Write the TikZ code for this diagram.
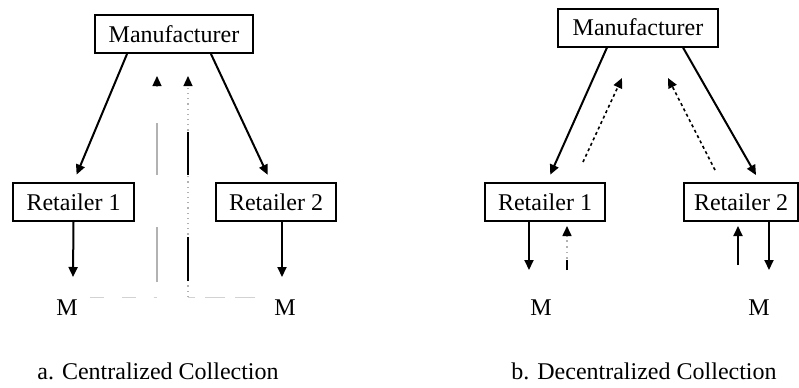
\documentclass[tikz,border=0pt]{standalone}
\usepackage{fontspec}
\setmainfont{Liberation Serif}
\usetikzlibrary{arrows.meta,calc}
\begin{document}
\begin{tikzpicture}[x=0.5pt,y=-0.5pt,line width=1pt,
  box node/.style={draw,rectangle,minimum height=19pt,inner sep=0pt,font=\fontsize{12}{14}\selectfont},
  label node/.style={inner sep=0pt,font=\fontsize{12}{14}\selectfont},
  flow/.style={-{Triangle[length=5pt,width=4.5pt]},shorten >=4pt},
  back flow/.style={-{Triangle[length=5pt,width=4.5pt,color=black]}}]
\useasboundingbox (0,0) rectangle (799,387);
% a. centralized
\node [box node,minimum width=79pt](mfrA) at (174,34) {Manufacturer};
\node [box node,minimum width=60.5pt](retA1) at (73.5,202) {Retailer 1};
\node [box node,minimum width=60pt](retA2) at (276,202) {Retailer 2};
\node [label node](mA1) at (67,308) {M};
\node [label node](mA2) at (285,308) {M};
\coordinate (dA1) at (73,277);
\coordinate (dA2) at (282,277);
\coordinate (cA1) at (157,297);
\coordinate (cA2) at (188,297);
\coordinate (tA1) at (157,76);
\coordinate (tA2) at (188,76);
\draw [flow] ($(mfrA.south)+(-47,0)$) -- (retA1.north);
\draw [flow] ($(mfrA.south)+(37,0)$) -- ($(retA2.north)+(-5,0)$);
\draw [flow,shorten >=0pt] (retA1.south) -- (dA1);
\draw [flow,shorten >=0pt] ($(retA2.south)+(6,0)$) -- (dA2);
\draw [gray!35,line width=0.5pt,dash pattern=on 7pt off 9pt] ($(mA1.east)+(11,-11)$) -- (cA1);
\draw [gray!35,line width=0.5pt,dash pattern=on 10pt off 5pt] ($(mA2.west)+(-18,-11)$) -- (cA2);
\draw [back flow,gray!60,line width=0.6pt,dash pattern=on 27.5pt off 26pt on 26pt off 18.5pt] ($(cA1)+(0,-15)$) -- (tA1);
\draw [back flow,gray!60,line width=0.6pt,dotted] (cA2) -- (tA2);
\draw [line width=1pt,dash pattern=on 22pt off 31pt on 21.5pt off 30.5pt,dash phase=97pt] (cA2) -- ($(tA2)+(0,10)$);
% b. decentralized
\node [box node,minimum width=80pt](mfrB) at (638,27.5) {Manufacturer};
\node [box node,minimum width=60pt](retB1) at (545,202) {Retailer 1};
\node [box node,minimum width=57pt](retB2) at (741,202) {Retailer 2};
\node [label node](mB1) at (541,308) {M};
\node [label node](mB2) at (759,308) {M};
\coordinate (dB1) at (529,270);
\coordinate (dB2) at (769,270);
\coordinate (uB1) at (567,270);
\coordinate (uB2) at (738,265);
\coordinate (sB1) at (583,162);
\coordinate (sB2) at (715,170);
\coordinate (tB1) at (622,78);
\coordinate (tB2) at (668,78);
\draw [flow] ($(mfrB.south)+(-31,0)$) -- ($(retB1.north)+(2,0)$);
\draw [flow] ($(mfrB.south)+(45,0)$) -- ($(retB2.north)+(19,0)$);
\draw [back flow,line width=0.8pt,dash pattern=on 1.5pt off 1.5pt] (sB1) -- (tB1);
\draw [back flow,line width=0.8pt,dash pattern=on 1.5pt off 1.5pt] (sB2) -- (tB2);
\draw [flow,shorten >=0pt] ($(retB1.south)+(-16,0)$) -- (dB1);
\draw [flow,shorten >=0pt] ($(retB2.south)+(28,0)$) -- (dB2);
\draw [back flow,gray!60,line width=0.8pt,dotted,shorten >=2pt] (uB1) -- ($(retB1.south)+(22,0)$);
\draw [line width=1pt] (uB1) -- ++(0,-10);
\draw [back flow,shorten >=2pt] (uB2) -- ($(retB2.south)+(-3,0)$);
% captions
\node [label node] (capA) at (158,371) {a. Centralized Collection};
\node [label node] (capB) at (644,371) {b. Decentralized Collection};
\end{tikzpicture}
\end{document}
